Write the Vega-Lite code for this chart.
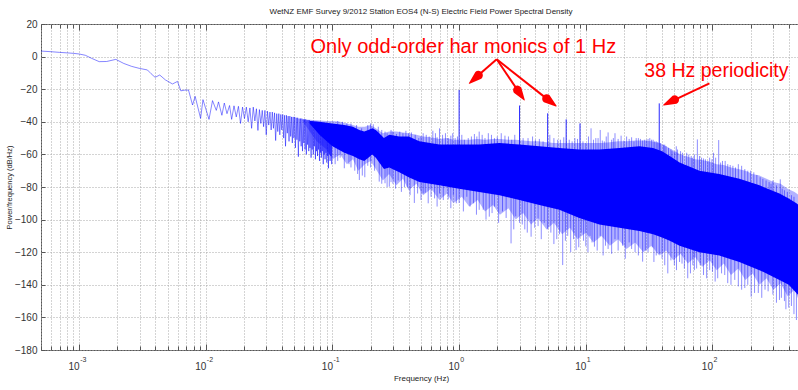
{
"$schema": "https://vega.github.io/schema/vega-lite/v6.json",
"autosize": {"type": "none"},
"padding": {"left": 41, "top": 24, "right": 0, "bottom": 40},
"width": 760,
"height": 326,
"title": {"text": "WetNZ EMF Survey 9/2012 Station EOS4 (N-S) Electric Field Power Spectral Density", "fontSize": 8, "fontWeight": "normal", "color": "#222", "anchor": "middle", "offset": 3, "font": "Liberation Sans"},
"config": {"font": "Liberation Sans", "view": {"stroke": "#555", "strokeWidth": 1}},
"datasets": {
"low": [
{"f":0.0005,"db":3.4},{"f":0.0006,"db":3.0},{"f":0.0007,"db":2.6},{"f":0.0008,"db":2.3},{"f":0.0009,"db":2.0},{"f":0.001,"db":1.6},{"f":0.00112,"db":0.8},{"f":0.00125,"db":-1.0},{"f":0.00144,"db":-3.1},{"f":0.00165,"db":-3.0},{"f":0.00195,"db":-1.7},{"f":0.00225,"db":-4.2},{"f":0.0026,"db":-6.0},{"f":0.00298,"db":-7.2},{"f":0.00346,"db":-8.2},{"f":0.0037,"db":-10.5},{"f":0.00398,"db":-12.7},{"f":0.00433,"db":-11.3},{"f":0.0048,"db":-14.3},{"f":0.00546,"db":-16.8},{"f":0.00598,"db":-15.2},{"f":0.00635,"db":-21.0},{"f":0.0068,"db":-20.6},{"f":0.0073,"db":-20.5},
{"f":0.00786,"db":-29.7},{"f":0.00824,"db":-24.4},{"f":0.0091,"db":-37.9},{"f":0.0095,"db":-26.4},{"f":0.0106,"db":-38.5},{"f":0.0113,"db":-27.0},{"f":0.0121,"db":-33.0},{"f":0.0126,"db":-27.8},{"f":0.0134,"db":-36.0},{"f":0.014,"db":-28.5},{"f":0.0147,"db":-35.0},{"f":0.0154,"db":-30.0},{"f":0.016,"db":-38.5},{"f":0.0167,"db":-30.2},{"f":0.0174,"db":-37.0},{"f":0.0181,"db":-30.5},{"f":0.0188,"db":-41.0},{"f":0.0195,"db":-31.0},{"f":0.0202,"db":-38.0},{"f":0.0209,"db":-31.0},{"f":0.0216,"db":-40.0},{"f":0.0223,"db":-31.5},{"f":0.023,"db":-44.0},{"f":0.0237,"db":-31.0},{"f":0.0244,"db":-39.5},{"f":0.0251,"db":-32.0},{"f":0.0258,"db":-45.3},{"f":0.0265,"db":-32.5},{"f":0.0272,"db":-41.0},{"f":0.0279,"db":-33.0},{"f":0.0286,"db":-43.0},{"f":0.0293,"db":-33.0},{"f":0.03,"db":-48.0},{"f":0.0307,"db":-33.5},{"f":0.0314,"db":-42.0},{"f":0.0321,"db":-34.0},{"f":0.0328,"db":-45.0},{"f":0.0335,"db":-34.0},{"f":0.0342,"db":-44.0},{"f":0.0349,"db":-34.5},{"f":0.0356,"db":-51.5},{"f":0.0363,"db":-35.0},{"f":0.037,"db":-46.0},{"f":0.0377,"db":-35.0},{"f":0.0384,"db":-48.0},{"f":0.0391,"db":-35.5},{"f":0.0398,"db":-45.0},{"f":0.0405,"db":-35.5},{"f":0.0412,"db":-50.0},{"f":0.0419,"db":-36.0},{"f":0.0426,"db":-55.0},{"f":0.0433,"db":-36.0},{"f":0.044,"db":-47.0},{"f":0.0447,"db":-36.5},{"f":0.0454,"db":-52.0},{"f":0.0461,"db":-36.5},{"f":0.0468,"db":-49.0},{"f":0.0475,"db":-37.0},{"f":0.0482,"db":-53.0},{"f":0.0489,"db":-37.0},{"f":0.0496,"db":-50.0},{"f":0.0503,"db":-37.0},{"f":0.051,"db":-56.0},{"f":0.0517,"db":-37.5},{"f":0.0524,"db":-51.0},{"f":0.0531,"db":-37.5},{"f":0.0538,"db":-61.4},{"f":0.0545,"db":-38.0},{"f":0.0552,"db":-52.0},{"f":0.0559,"db":-38.0},{"f":0.0566,"db":-55.0},{"f":0.0573,"db":-38.0},{"f":0.058,"db":-58.0},{"f":0.0587,"db":-38.5},{"f":0.0594,"db":-53.0},{"f":0.0601,"db":-38.5},{"f":0.0608,"db":-57.0},{"f":0.0615,"db":-38.5},{"f":0.0622,"db":-60.0},{"f":0.0629,"db":-39.0},{"f":0.0636,"db":-54.0},{"f":0.0643,"db":-39.0},{"f":0.065,"db":-58.0},{"f":0.0657,"db":-39.0},{"f":0.0664,"db":-56.0},{"f":0.0671,"db":-39.5},{"f":0.0678,"db":-62.0},{"f":0.0685,"db":-39.5},{"f":0.0692,"db":-57.0},{"f":0.0699,"db":-39.5},{"f":0.0706,"db":-60.0},{"f":0.0713,"db":-40.0},{"f":0.072,"db":-55.0},{"f":0.0727,"db":-40.0},{"f":0.0734,"db":-63.0},{"f":0.0741,"db":-40.0},{"f":0.0748,"db":-58.0},{"f":0.0755,"db":-40.0},{"f":0.0762,"db":-61.0},{"f":0.0769,"db":-40.5},{"f":0.0776,"db":-57.0},{"f":0.0783,"db":-40.5},{"f":0.079,"db":-64.0},{"f":0.0797,"db":-40.5},{"f":0.0804,"db":-59.0},{"f":0.0811,"db":-40.5},{"f":0.0818,"db":-62.0},{"f":0.0825,"db":-41.0},{"f":0.0832,"db":-58.0},{"f":0.0839,"db":-41.0},{"f":0.0846,"db":-66.0},{"f":0.0853,"db":-41.0},{"f":0.086,"db":-60.0},{"f":0.0867,"db":-41.0},{"f":0.0874,"db":-63.0},{"f":0.0881,"db":-41.5},{"f":0.0888,"db":-59.0},{"f":0.0895,"db":-41.5},{"f":0.0902,"db":-65.0},{"f":0.0909,"db":-41.5},{"f":0.0916,"db":-61.0},{"f":0.0923,"db":-41.5},{"f":0.093,"db":-68.5},{"f":0.0937,"db":-42.0},{"f":0.0944,"db":-60.0},{"f":0.0951,"db":-42.0},{"f":0.0958,"db":-64.0},{"f":0.0965,"db":-42.0},{"f":0.0972,"db":-61.0},{"f":0.0979,"db":-42.0},{"f":0.0986,"db":-66.0},{"f":0.0993,"db":-42.5}
],
"core": [
{"f":0.066,"lo":-41,"hi":-39.5},{"f":0.079,"lo":-48,"hi":-40},{"f":0.1,"lo":-55,"hi":-41},{"f":0.124,"lo":-59,"hi":-42},{"f":0.145,"lo":-61,"hi":-43},{"f":0.163,"lo":-63,"hi":-45},{"f":0.178,"lo":-64,"hi":-46},{"f":0.192,"lo":-62,"hi":-45},{"f":0.206,"lo":-60,"hi":-44},{"f":0.22,"lo":-62,"hi":-45},{"f":0.234,"lo":-65,"hi":-47},{"f":0.255,"lo":-69,"hi":-50},{"f":0.281,"lo":-68,"hi":-48},{"f":0.337,"lo":-71,"hi":-49},{"f":0.4,"lo":-74,"hi":-49},{"f":0.485,"lo":-77,"hi":-52},{"f":0.698,"lo":-79,"hi":-54},{"f":1.0,"lo":-81,"hi":-54},{"f":1.44,"lo":-83,"hi":-54},{"f":2.08,"lo":-85,"hi":-53},{"f":2.99,"lo":-88,"hi":-54},{"f":4.3,"lo":-91,"hi":-55},{"f":6.18,"lo":-94,"hi":-56},{"f":8.89,"lo":-99,"hi":-57},{"f":12.8,"lo":-103,"hi":-57},{"f":18.4,"lo":-105,"hi":-56},{"f":26.5,"lo":-107,"hi":-55},{"f":34,"lo":-109,"hi":-56},{"f":40,"lo":-111,"hi":-58},{"f":46,"lo":-113,"hi":-61},{"f":55,"lo":-116,"hi":-65},{"f":79,"lo":-120,"hi":-70},{"f":113,"lo":-122,"hi":-72},{"f":163,"lo":-126,"hi":-75},{"f":235,"lo":-131,"hi":-79},{"f":338,"lo":-137,"hi":-84},{"f":400,"lo":-140,"hi":-87},{"f":460,"lo":-145,"hi":-90},{"f":500,"lo":-148,"hi":-92}
],
"halo": [
{"f":0.058,"lo":-39.5,"hi":-38.5},{"f":0.075,"lo":-52,"hi":-39},{"f":0.09,"lo":-57,"hi":-39.5},{"f":0.1,"lo":-63,"hi":-39.5},{"f":0.115,"lo":-60,"hi":-40},{"f":0.13,"lo":-66,"hi":-41},{"f":0.145,"lo":-63,"hi":-42},{"f":0.16,"lo":-70,"hi":-43},{"f":0.18,"lo":-66,"hi":-43},{"f":0.2,"lo":-64,"hi":-42},{"f":0.22,"lo":-69,"hi":-44},{"f":0.25,"lo":-76,"hi":-47},{"f":0.28,"lo":-72,"hi":-46},{"f":0.32,"lo":-79,"hi":-46},{"f":0.36,"lo":-75,"hi":-46.5},{"f":0.4,"lo":-82,"hi":-47},{"f":0.46,"lo":-78,"hi":-48},{"f":0.52,"lo":-85,"hi":-49},{"f":0.6,"lo":-81,"hi":-49.5},{"f":0.7,"lo":-88,"hi":-50.5},{"f":0.8,"lo":-84,"hi":-50},{"f":0.9,"lo":-90,"hi":-51},{"f":1.05,"lo":-86,"hi":-51},{"f":1.2,"lo":-92,"hi":-51},{"f":1.4,"lo":-88,"hi":-50.5},{"f":1.6,"lo":-95,"hi":-51},{"f":1.85,"lo":-91,"hi":-50.5},{"f":2.1,"lo":-97,"hi":-50.5},{"f":2.45,"lo":-93,"hi":-51},{"f":2.8,"lo":-100,"hi":-51},{"f":3.2,"lo":-96,"hi":-51.5},{"f":3.7,"lo":-103,"hi":-52},{"f":4.2,"lo":-99,"hi":-52},{"f":4.9,"lo":-106,"hi":-52.5},{"f":5.6,"lo":-102,"hi":-53},{"f":6.5,"lo":-109,"hi":-53},{"f":7.5,"lo":-105,"hi":-53},{"f":8.6,"lo":-112,"hi":-53},{"f":10,"lo":-108,"hi":-53},{"f":11.5,"lo":-114,"hi":-53},{"f":13.3,"lo":-110,"hi":-53},{"f":15.5,"lo":-116,"hi":-52.5},{"f":18,"lo":-112,"hi":-52},{"f":21,"lo":-118,"hi":-52},{"f":24.5,"lo":-114,"hi":-51.5},{"f":28.5,"lo":-120,"hi":-51.5},{"f":33,"lo":-116,"hi":-52},{"f":38,"lo":-122,"hi":-53},{"f":43,"lo":-119,"hi":-55},{"f":49,"lo":-125,"hi":-57.5},{"f":56,"lo":-121,"hi":-60},{"f":64,"lo":-127,"hi":-61.5},{"f":73,"lo":-123,"hi":-63},{"f":83,"lo":-129,"hi":-63.5},{"f":95,"lo":-125,"hi":-64.5},{"f":108,"lo":-131,"hi":-66},{"f":123,"lo":-127,"hi":-66.5},{"f":140,"lo":-134,"hi":-68},{"f":160,"lo":-130,"hi":-69},{"f":182,"lo":-137,"hi":-70},{"f":207,"lo":-133,"hi":-72},{"f":235,"lo":-140,"hi":-73},{"f":267,"lo":-136,"hi":-75},{"f":303,"lo":-143,"hi":-77},{"f":345,"lo":-139,"hi":-78},{"f":392,"lo":-147,"hi":-81},{"f":445,"lo":-143,"hi":-83},{"f":500,"lo":-153,"hi":-86}
],
"spk": [
{"f":11,"lo":-61,"hi":-44},{"f":13,"lo":-61,"hi":-45},{"f":15,"lo":-61,"hi":-46.5},{"f":17,"lo":-60,"hi":-47},{"f":19,"lo":-60,"hi":-48.5},{"f":21,"lo":-60,"hi":-49},{"f":23,"lo":-59,"hi":-49.5},{"f":25,"lo":-59,"hi":-50},{"f":27,"lo":-59,"hi":-50.5},{"f":29,"lo":-59,"hi":-51},{"f":31,"lo":-59,"hi":-50.5},{"f":33,"lo":-60,"hi":-51},{"f":35,"lo":-60,"hi":-52},{"f":37,"lo":-61,"hi":-52.5},{"f":39,"lo":-62,"hi":-53},{"f":41,"lo":-64,"hi":-54},{"f":43,"lo":-66,"hi":-55},
{"f":0.12,"lo":-46,"hi":-40},{"f":0.14,"lo":-47,"hi":-41},{"f":0.19,"lo":-48,"hi":-42},{"f":0.21,"lo":-48,"hi":-41.5},{"f":0.26,"lo":-54,"hi":-46},{"f":0.3,"lo":-52,"hi":-46},{"f":0.36,"lo":-53,"hi":-47},{"f":0.42,"lo":-54,"hi":-46.5},{"f":0.5,"lo":-56,"hi":-49},{"f":0.55,"lo":-57,"hi":-48},{"f":0.62,"lo":-58,"hi":-45.5},{"f":0.7,"lo":-58,"hi":-44},{"f":0.78,"lo":-58,"hi":-47},{"f":0.86,"lo":-58,"hi":-48.5},{"f":0.93,"lo":-58,"hi":-50},{"f":1.1,"lo":-58,"hi":-51},{"f":1.25,"lo":-58,"hi":-49},{"f":1.44,"lo":-58,"hi":-46},{"f":1.6,"lo":-58,"hi":-50},{"f":1.8,"lo":-57,"hi":-48},{"f":2.0,"lo":-57,"hi":-49},{"f":2.3,"lo":-57,"hi":-48.5},{"f":2.6,"lo":-58,"hi":-51},{"f":3.5,"lo":-58,"hi":-50},{"f":4.0,"lo":-59,"hi":-51},{"f":4.6,"lo":-59,"hi":-52},{"f":5.6,"lo":-60,"hi":-50},{"f":6.3,"lo":-60,"hi":-51},{"f":7.8,"lo":-61,"hi":-52},{"f":8.2,"lo":-61,"hi":-50},{"f":10,"lo":-61,"hi":-53},{"f":12,"lo":-61,"hi":-50},{"f":14,"lo":-61,"hi":-52},{"f":16,"lo":-60,"hi":-51},{"f":20,"lo":-60,"hi":-51.5},{"f":24,"lo":-59,"hi":-52},{"f":26,"lo":-59,"hi":-50},{"f":30,"lo":-59,"hi":-51},{"f":32,"lo":-59,"hi":-50},{"f":36,"lo":-60,"hi":-52},{"f":45,"lo":-67,"hi":-56},{"f":48,"lo":-69,"hi":-58},{"f":51.8,"lo":-71,"hi":-55},{"f":56,"lo":-72,"hi":-58},{"f":62.6,"lo":-73,"hi":-59},{"f":68,"lo":-73,"hi":-61},{"f":72,"lo":-74,"hi":-60},{"f":76,"lo":-74,"hi":-50.8},{"f":82,"lo":-74,"hi":-62},{"f":88,"lo":-75,"hi":-63},{"f":95,"lo":-75,"hi":-62},{"f":102,"lo":-75,"hi":-59},{"f":112,"lo":-76,"hi":-51.2},{"f":120,"lo":-77,"hi":-64},{"f":132,"lo":-77,"hi":-66},{"f":145,"lo":-78,"hi":-67},{"f":160,"lo":-79,"hi":-66},{"f":180,"lo":-80,"hi":-69},{"f":200,"lo":-81,"hi":-70},{"f":224,"lo":-82,"hi":-72.6},{"f":250,"lo":-84,"hi":-75},{"f":280,"lo":-86,"hi":-77},{"f":300,"lo":-86,"hi":-76},{"f":343,"lo":-88,"hi":-75.3},{"f":370,"lo":-90,"hi":-82},{"f":420,"lo":-92,"hi":-85},
{"f":0.11,"lo":-44,"hi":-39.5},{"f":0.13,"lo":-45,"hi":-41},{"f":0.155,"lo":-47,"hi":-42},{"f":0.17,"lo":-49,"hi":-44},{"f":0.2,"lo":-47,"hi":-41},{"f":0.23,"lo":-49,"hi":-43},{"f":0.245,"lo":-51,"hi":-45},{"f":0.27,"lo":-52,"hi":-47},{"f":0.29,"lo":-51,"hi":-45},{"f":0.32,"lo":-52,"hi":-47.5},{"f":0.34,"lo":-52,"hi":-46},{"f":0.38,"lo":-52,"hi":-45.5},{"f":0.4,"lo":-52,"hi":-47},{"f":0.45,"lo":-54,"hi":-48},{"f":0.48,"lo":-55,"hi":-50},{"f":0.52,"lo":-55,"hi":-47},{"f":0.58,"lo":-56,"hi":-49},{"f":0.65,"lo":-57,"hi":-47},{"f":0.67,"lo":-57,"hi":-49.5},{"f":0.74,"lo":-57,"hi":-48},{"f":0.82,"lo":-57,"hi":-50},{"f":0.89,"lo":-57,"hi":-47},{"f":0.97,"lo":-57,"hi":-49},{"f":1.05,"lo":-57,"hi":-48},{"f":1.18,"lo":-57,"hi":-50},{"f":1.32,"lo":-57,"hi":-47.5},{"f":1.38,"lo":-57,"hi":-49},{"f":1.52,"lo":-57,"hi":-48},{"f":1.7,"lo":-57,"hi":-47},{"f":1.9,"lo":-56,"hi":-50},{"f":2.15,"lo":-56,"hi":-47},{"f":2.45,"lo":-56,"hi":-49},{"f":2.75,"lo":-57,"hi":-48},{"f":3.2,"lo":-57,"hi":-50},{"f":3.8,"lo":-57,"hi":-49},{"f":4.3,"lo":-58,"hi":-50.5},{"f":5.2,"lo":-58,"hi":-48},{"f":6.0,"lo":-59,"hi":-51},{"f":6.7,"lo":-59,"hi":-49.5},{"f":7.4,"lo":-60,"hi":-51},{"f":8.6,"lo":-60,"hi":-50.5},{"f":9.5,"lo":-60,"hi":-52},{"f":10.5,"lo":-60,"hi":-49},{"f":11.5,"lo":-60,"hi":-51},{"f":12.5,"lo":-60,"hi":-50},{"f":13.5,"lo":-60,"hi":-51.5},{"f":14.5,"lo":-60,"hi":-49},{"f":16.5,"lo":-59,"hi":-50},{"f":18,"lo":-59,"hi":-50.5},{"f":22,"lo":-59,"hi":-50.5},{"f":28,"lo":-58,"hi":-51.5},{"f":34,"lo":-59,"hi":-51},{"f":42,"lo":-62,"hi":-54},{"f":47,"lo":-64,"hi":-57},{"f":50,"lo":-65,"hi":-58.5},{"f":53,"lo":-66,"hi":-57},{"f":58,"lo":-67,"hi":-59},{"f":65,"lo":-68,"hi":-60},{"f":70,"lo":-69,"hi":-62},{"f":79,"lo":-70,"hi":-61},{"f":85,"lo":-71,"hi":-62.5},{"f":92,"lo":-71,"hi":-64},{"f":99,"lo":-72,"hi":-63},{"f":106,"lo":-72,"hi":-62},{"f":116,"lo":-73,"hi":-65},{"f":126,"lo":-74,"hi":-64},{"f":138,"lo":-75,"hi":-66.5},{"f":152,"lo":-76,"hi":-68},{"f":170,"lo":-77,"hi":-67},{"f":190,"lo":-78,"hi":-70},{"f":212,"lo":-80,"hi":-71},{"f":238,"lo":-82,"hi":-74},{"f":265,"lo":-84,"hi":-76},{"f":290,"lo":-85,"hi":-78},{"f":320,"lo":-87,"hi":-79},{"f":355,"lo":-89,"hi":-81},{"f":390,"lo":-91,"hi":-83},{"f":440,"lo":-93,"hi":-86},{"f":480,"lo":-95,"hi":-88},
{"f":0.105,"lo":-66,"hi":-52},{"f":0.115,"lo":-62,"hi":-53},{"f":0.124,"lo":-68.5,"hi":-54},{"f":0.135,"lo":-66,"hi":-56},{"f":0.15,"lo":-70,"hi":-58},{"f":0.163,"lo":-75.7,"hi":-60},{"f":0.172,"lo":-73,"hi":-62},{"f":0.19,"lo":-67,"hi":-55},{"f":0.234,"lo":-76.7,"hi":-60},{"f":0.26,"lo":-77.7,"hi":-66},{"f":0.281,"lo":-79.8,"hi":-64},{"f":0.3,"lo":-78,"hi":-64},{"f":0.33,"lo":-76,"hi":-65},{"f":0.37,"lo":-80,"hi":-67},{"f":0.443,"lo":-89.8,"hi":-69},{"f":0.47,"lo":-84,"hi":-69},{"f":0.54,"lo":-83.5,"hi":-70},{"f":0.6,"lo":-86,"hi":-71},{"f":0.7,"lo":-84,"hi":-72},{"f":0.82,"lo":-87.6,"hi":-72},{"f":0.9,"lo":-85,"hi":-73},{"f":1.0,"lo":-89.8,"hi":-73},{"f":1.15,"lo":-86,"hi":-74},{"f":1.3,"lo":-90,"hi":-74},{"f":1.44,"lo":-94,"hi":-75},{"f":1.73,"lo":-98.2,"hi":-76},{"f":1.9,"lo":-92,"hi":-77},{"f":2.2,"lo":-95,"hi":-77},{"f":2.57,"lo":-114.6,"hi":-79},{"f":2.8,"lo":-98,"hi":-79},{"f":3.0,"lo":-102,"hi":-80},{"f":3.3,"lo":-106,"hi":-81},{"f":3.7,"lo":-110.5,"hi":-81},{"f":4.2,"lo":-104,"hi":-82},{"f":4.7,"lo":-102,"hi":-83},{"f":5.3,"lo":-108,"hi":-84},{"f":5.9,"lo":-112,"hi":-84},{"f":6.57,"lo":-127.9,"hi":-85},{"f":7.2,"lo":-110,"hi":-86},{"f":8.38,"lo":-118.7,"hi":-90},{"f":9.2,"lo":-108,"hi":-91},{"f":10.0,"lo":-116.4,"hi":-92},{"f":10.8,"lo":-110,"hi":-93},{"f":11.7,"lo":-116.6,"hi":-94},{"f":13,"lo":-110,"hi":-96},{"f":15,"lo":-118,"hi":-97},{"f":17,"lo":-112,"hi":-98},{"f":19.5,"lo":-116,"hi":-99},{"f":22,"lo":-114,"hi":-100},{"f":24.5,"lo":-120,"hi":-100},{"f":28.1,"lo":-125.8,"hi":-101},{"f":31,"lo":-120,"hi":-102},{"f":33.5,"lo":-117,"hi":-103},{"f":36,"lo":-122,"hi":-104},{"f":40,"lo":-124,"hi":-106},{"f":44.4,"lo":-133,"hi":-108},{"f":50,"lo":-128,"hi":-110},{"f":55,"lo":-126,"hi":-112},{"f":60,"lo":-130,"hi":-113},{"f":63.8,"lo":-136,"hi":-113},{"f":70,"lo":-128,"hi":-114},{"f":75,"lo":-130,"hi":-114},{"f":85,"lo":-134,"hi":-115},{"f":95,"lo":-131,"hi":-115},{"f":110,"lo":-136,"hi":-116},{"f":125,"lo":-134,"hi":-117},{"f":140,"lo":-140,"hi":-118},{"f":160,"lo":-141,"hi":-120},{"f":180,"lo":-142,"hi":-121},{"f":202,"lo":-147.3,"hi":-123},{"f":230,"lo":-145,"hi":-126},{"f":260,"lo":-143,"hi":-128},{"f":300,"lo":-146,"hi":-130},{"f":338,"lo":-149.3,"hi":-132},{"f":370,"lo":-150,"hi":-134},{"f":400,"lo":-154,"hi":-136},{"f":440,"lo":-158,"hi":-139},{"f":460,"lo":-161.6,"hi":-141},
{"f":0.11,"lo":-64,"hi":-54},{"f":0.14,"lo":-68,"hi":-57},{"f":0.158,"lo":-72,"hi":-60},{"f":0.18,"lo":-74,"hi":-63},{"f":0.2,"lo":-68,"hi":-56},{"f":0.215,"lo":-70,"hi":-58},{"f":0.245,"lo":-78,"hi":-62},{"f":0.27,"lo":-80,"hi":-65},{"f":0.29,"lo":-77,"hi":-64},{"f":0.315,"lo":-81,"hi":-65},{"f":0.35,"lo":-83,"hi":-66},{"f":0.39,"lo":-80,"hi":-68},{"f":0.41,"lo":-85,"hi":-68},{"f":0.5,"lo":-88,"hi":-72},{"f":0.52,"lo":-84,"hi":-72},{"f":0.57,"lo":-90,"hi":-73},{"f":0.64,"lo":-87,"hi":-73},{"f":0.67,"lo":-92,"hi":-74},{"f":0.75,"lo":-88,"hi":-74},{"f":0.86,"lo":-93,"hi":-75},{"f":0.95,"lo":-90,"hi":-76},{"f":1.08,"lo":-95,"hi":-77},{"f":1.22,"lo":-92,"hi":-78},{"f":1.37,"lo":-97,"hi":-79},{"f":1.55,"lo":-94,"hi":-80},{"f":1.63,"lo":-100,"hi":-80},{"f":1.82,"lo":-96,"hi":-81},{"f":2.05,"lo":-102,"hi":-82},{"f":2.35,"lo":-99,"hi":-83},{"f":2.7,"lo":-106,"hi":-84},{"f":3.15,"lo":-103,"hi":-85},{"f":3.45,"lo":-108,"hi":-86},{"f":3.95,"lo":-105,"hi":-87},{"f":4.45,"lo":-112,"hi":-88},{"f":5.0,"lo":-106,"hi":-89},{"f":5.6,"lo":-115,"hi":-90},{"f":6.2,"lo":-109,"hi":-91},{"f":6.9,"lo":-113,"hi":-92},{"f":7.6,"lo":-120,"hi":-93},{"f":8.0,"lo":-112,"hi":-94},{"f":8.8,"lo":-117,"hi":-95},{"f":9.6,"lo":-113,"hi":-96},{"f":10.4,"lo":-120,"hi":-97},{"f":11.2,"lo":-114,"hi":-98},{"f":12.3,"lo":-119,"hi":-99},{"f":13.7,"lo":-122,"hi":-100},{"f":14.3,"lo":-116,"hi":-100},{"f":16,"lo":-121,"hi":-101},{"f":18,"lo":-119,"hi":-102},{"f":20.5,"lo":-124,"hi":-102},{"f":23,"lo":-118,"hi":-103},{"f":26,"lo":-122,"hi":-104},{"f":29.5,"lo":-119,"hi":-104},{"f":34.5,"lo":-126,"hi":-106},{"f":38,"lo":-121,"hi":-107},{"f":42,"lo":-128,"hi":-109},{"f":47,"lo":-125,"hi":-111},{"f":52,"lo":-131,"hi":-112},{"f":57.5,"lo":-127,"hi":-113},{"f":67,"lo":-133,"hi":-114},{"f":72,"lo":-131,"hi":-115},{"f":80,"lo":-128,"hi":-116},{"f":90,"lo":-136,"hi":-117},{"f":100,"lo":-132,"hi":-118},{"f":105,"lo":-138,"hi":-118},{"f":118,"lo":-133,"hi":-119},{"f":132,"lo":-139,"hi":-120},{"f":150,"lo":-137,"hi":-121},{"f":170,"lo":-143,"hi":-122},{"f":190,"lo":-140,"hi":-124},{"f":215,"lo":-145,"hi":-126},{"f":245,"lo":-148,"hi":-128},{"f":275,"lo":-144,"hi":-130},{"f":320,"lo":-151,"hi":-133},{"f":350,"lo":-148,"hi":-135},{"f":380,"lo":-155,"hi":-137},{"f":420,"lo":-153,"hi":-139},{"f":480,"lo":-160,"hi":-142}
],
"strong": [
{"f":1.0,"lo":-58,"hi":-20.5},{"f":3.0,"lo":-58,"hi":-30},{"f":5.0,"lo":-59,"hi":-34.8},{"f":7.0,"lo":-60,"hi":-38.5},{"f":9.0,"lo":-61,"hi":-41},{"f":38.0,"lo":-60,"hi":-28.7}
],
"arrows": [
{"f0":1.98,"d0":-1.66,"f1":1.418,"d1":-11.5},{"f0":1.98,"d0":-1.66,"f1":2.893,"d1":-20.55},{"f0":1.98,"d0":-1.66,"f1":4.91,"d1":-25.8},{"f0":94.6,"d0":-16.4,"f1":50.2,"d1":-26.5}
],
"heads": [
{"id":1,"f":1.204,"db":-16.4,"w":0},{"id":1,"f":1.418,"db":-11.5,"w":1},
{"id":2,"f":3.27,"db":-26.6,"w":0},{"id":2,"f":2.893,"db":-20.55,"w":1},
{"id":3,"f":5.83,"db":-30.3,"w":0},{"id":3,"f":4.91,"db":-25.8,"w":1},
{"id":4,"f":41.2,"db":-29.7,"w":0},{"id":4,"f":50.2,"db":-26.5,"w":1}
],
"exps": [
{"f":0.001,"e":"-3"},{"f":0.01,"e":"-2"},{"f":0.1,"e":"-1"},{"f":1,"e":"0"},{"f":10,"e":"1"},{"f":100,"e":"2"}
]
},
"layer": [
{
"data": {"name": "halo"},
"mark": {"type": "area", "color": "#0000ff", "opacity": 0.3},
"encoding": {
"x": {"field": "f", "type": "quantitative", "scale": {"type": "log", "domain": [0.0005, 500], "nice": false},
 "axis": {"orient": "bottom", "values": [0.0005,0.0006,0.0007,0.0008,0.0009,0.001,0.002,0.003,0.004,0.005,0.006,0.007,0.008,0.009,0.01,0.02,0.03,0.04,0.05,0.06,0.07,0.08,0.09,0.1,0.2,0.3,0.4,0.5,0.6,0.7,0.8,0.9,1,2,3,4,5,6,7,8,9,10,20,30,40,50,60,70,80,90,100,200,300,400,500],
  "labelExpr": "indexof([0.001,0.01,0.1,1,10,100], datum.value) >= 0 ? '10' : ''",
  "labelAlign": "right", "labelDx": 1, "labelFontSize": 10, "labelColor": "#333", "labelPadding": 17, "labelFlush": false, "labelOverlap": false,
  "grid": true, "gridDash": [1, 2], "gridColor": "#a8a8a8", "gridWidth": 1,
  "domain": false, "tickColor": "#555", "tickWidth": 1,
  "tickSize": {"condition": {"test": "indexof([0.001,0.01,0.1,1,10,100], datum.value) >= 0", "value": -6}, "value": -4},
  "title": "Frequency (Hz)", "titleFontSize": 8, "titleFontWeight": "normal", "titleColor": "#222", "titlePadding": 1}},
"y": {"field": "lo", "type": "quantitative", "scale": {"domain": [-180, 20], "nice": false, "zero": false},
 "axis": {"orient": "left", "values": [-180,-160,-140,-120,-100,-80,-60,-40,-20,0,20],
  "grid": true, "gridDash": [1, 2], "gridColor": "#a8a8a8", "domain": false, "tickColor": "#555", "tickSize": -4,
  "labelFontSize": 10, "labelColor": "#333", "labelPadding": 8,
  "title": "Power/frequency (dB/Hz)", "titleFontSize": 7.5, "titleFontWeight": "normal", "titleColor": "#222", "titlePadding": 1}},
"y2": {"field": "hi"}
}
},
{
"data": {"name": "core"},
"mark": {"type": "area", "color": "#0000ff"},
"encoding": {
"x": {"field": "f", "type": "quantitative", "axis": null},
"y": {"field": "lo", "type": "quantitative", "axis": null},
"y2": {"field": "hi"}
}
},
{
"data": {"name": "low"},
"mark": {"type": "line", "color": "#0000ff", "strokeWidth": 0.8, "opacity": 0.6},
"encoding": {
"x": {"field": "f", "type": "quantitative", "axis": null},
"y": {"field": "db", "type": "quantitative", "axis": null}
}
},
{
"data": {"name": "spk"},
"mark": {"type": "rule", "color": "#0000ff", "strokeWidth": 1, "opacity": 0.45},
"encoding": {
"x": {"field": "f", "type": "quantitative", "axis": null},
"y": {"field": "lo", "type": "quantitative", "axis": null},
"y2": {"field": "hi"}
}
},
{
"data": {"name": "strong"},
"mark": {"type": "rule", "color": "#0000ff", "strokeWidth": 1, "opacity": 0.85},
"encoding": {
"x": {"field": "f", "type": "quantitative", "axis": null},
"y": {"field": "lo", "type": "quantitative", "axis": null},
"y2": {"field": "hi"}
}
},
{
"data": {"name": "arrows"},
"mark": {"type": "rule", "color": "#ff0000", "strokeWidth": 2},
"encoding": {
"x": {"field": "f0", "type": "quantitative",
 "axis": {"orient": "top", "values": [0.0005,0.0006,0.0007,0.0008,0.0009,0.001,0.002,0.003,0.004,0.005,0.006,0.007,0.008,0.009,0.01,0.02,0.03,0.04,0.05,0.06,0.07,0.08,0.09,0.1,0.2,0.3,0.4,0.5,0.6,0.7,0.8,0.9,1,2,3,4,5,6,7,8,9,10,20,30,40,50,60,70,80,90,100,200,300,400,500],
  "labels": false, "grid": false, "domain": false, "title": null, "tickColor": "#555",
  "tickSize": {"condition": {"test": "indexof([0.001,0.01,0.1,1,10,100], datum.value) >= 0", "value": -6}, "value": -4}}},
"y": {"field": "d0", "type": "quantitative", "axis": null},
"x2": {"field": "f1"},
"y2": {"field": "d1"}
}
},
{
"data": {"name": "heads"},
"mark": {"type": "trail", "color": "#ff0000"},
"encoding": {
"x": {"field": "f", "type": "quantitative", "axis": null},
"y": {"field": "db", "type": "quantitative", "axis": null},
"detail": {"field": "id"},
"size": {"field": "w", "type": "quantitative", "scale": {"domain": [0, 1], "range": [0, 9]}, "legend": null}
}
},
{
"data": {"values": [{"f": 1.079, "db": 2.0, "t": "Only odd-order har monics of 1 Hz"}]},
"mark": {"type": "text", "color": "#ff0000", "fontSize": 20, "align": "center", "baseline": "alphabetic"},
"encoding": {
"x": {"field": "f", "type": "quantitative", "axis": null},
"y": {"field": "db", "type": "quantitative", "axis": null},
"text": {"field": "t"}
}
},
{
"data": {"values": [{"f": 107.5, "db": -12.3, "t": "38 Hz periodicity"}]},
"mark": {"type": "text", "color": "#ff0000", "fontSize": 19.5, "align": "center", "baseline": "alphabetic"},
"encoding": {
"x": {"field": "f", "type": "quantitative", "axis": null},
"y": {"field": "db", "type": "quantitative", "axis": null},
"text": {"field": "t"}
}
},
{
"data": {"name": "exps"},
"mark": {"type": "text", "color": "#333", "fontSize": 7, "align": "left", "baseline": "alphabetic", "dx": 1, "dy": 12},
"encoding": {
"x": {"field": "f", "type": "quantitative", "axis": null},
"y": {"datum": -180, "type": "quantitative", "axis": null},
"text": {"field": "e"}
}
}
],
"resolve": {"axis": {"x": "independent", "y": "independent"}}
}
